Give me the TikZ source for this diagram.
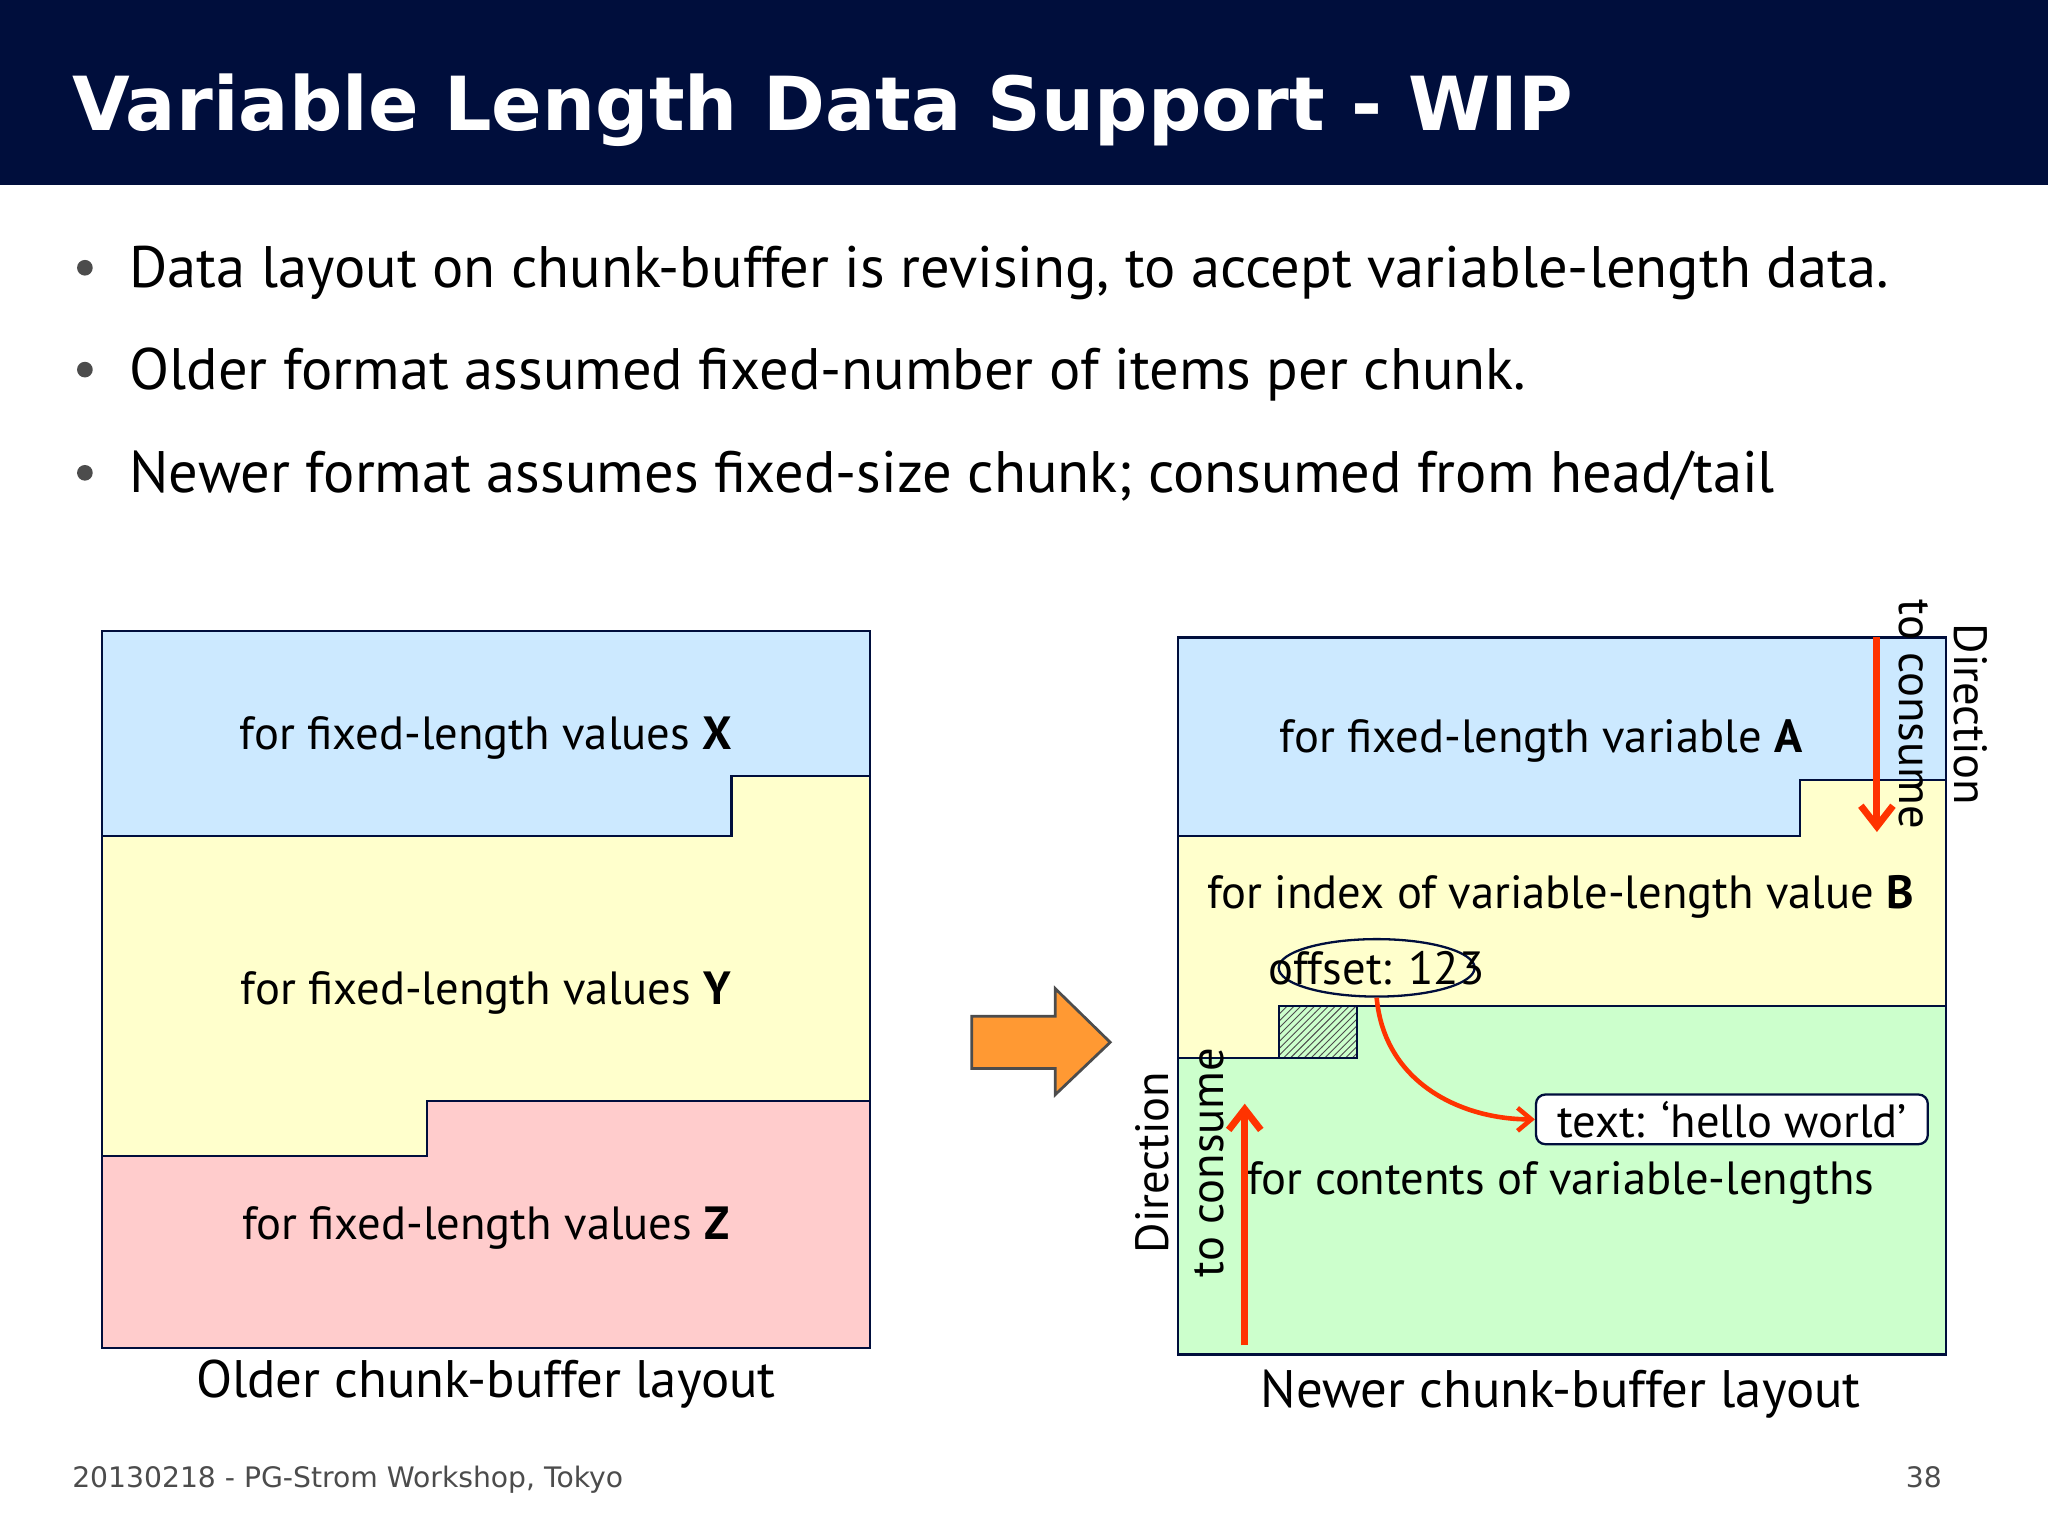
\documentclass[tikz,border=0pt]{standalone}
\usepackage{fontspec}
\setmainfont{PT Sans}
\newfontfamily\titlefont{DejaVu Sans}
\usetikzlibrary{patterns,shapes.geometric,arrows.meta}
\definecolor{navy}{HTML}{000E3C}
\definecolor{cblue}{HTML}{CCE9FF}
\definecolor{cyel}{HTML}{FFFFCC}
\definecolor{cpink}{HTML}{FFCCCC}
\definecolor{cgreen}{HTML}{CCFFCC}
\definecolor{corange}{HTML}{FF9933}
\definecolor{cred}{HTML}{FF3300}
\begin{document}
\begin{tikzpicture}[x=0.02cm,y=-0.02cm,
  reg/.style={draw=navy,line width=1pt},
  lbl/.style={font=\fontsize{20.3}{24}\selectfont},
  captxt/.style={font=\fontsize{23}{27}\selectfont},
  bul/.style={anchor=base west,font=\fontsize{25.5}{30}\selectfont},
  redarr/.style={draw=cred,line width=3pt,-{Straight Barb[length=9pt,width=14pt]}}]
\useasboundingbox (0,0) rectangle (1568,1176);
\fill[white] (0,0) rectangle (1568,1176);
\fill[navy] (0,0) rectangle (1568,142);
\node[anchor=base west,text=white,font=\titlefont\bfseries\fontsize{32.5}{38}\selectfont,inner sep=0pt] (title) at (55,100) {Variable Length Data Support - WIP};
\fill[black!70] (65,205) circle (6);
\node[bul] (b1) at (93,220) {Data layout on chunk-buffer is revising, to accept variable-length data.};
\fill[black!70] (65,283) circle (6);
\node[bul] (b2) at (93,298) {Older format assumed fixed-number of items per chunk.};
\fill[black!70] (65,362) circle (6);
\node[bul] (b3) at (93,377) {Newer format assumes fixed-size chunk; consumed from head/tail};
% left
\filldraw[reg,fill=cpink] (78,483) rectangle (666,1032);
\filldraw[reg,fill=cyel] (78,483) -- (666,483) -- (666,843) -- (327,843) -- (327,885) -- (78,885) -- cycle;
\filldraw[reg,fill=cblue] (78,483) -- (666,483) -- (666,594) -- (560,594) -- (560,640) -- (78,640) -- cycle;
\node[lbl] (lx) at (372,565) {for fixed-length values \textbf{X}};
\node[lbl] (ly) at (372,760) {for fixed-length values \textbf{Y}};
\node[lbl] (lz) at (372,940) {for fixed-length values \textbf{Z}};
\node[captxt] (lc) at (372,1060) {Older chunk-buffer layout};
% arrow
\filldraw[draw=black!70,line width=1.2pt,fill=corange] (744,778) -- (808,778) -- (808,757) -- (850,798) -- (808,838) -- (808,818) -- (744,818) -- cycle;
% right
\filldraw[reg,fill=cgreen] (902,488) rectangle (1490,1037);
\filldraw[reg,fill=cyel] (902,488) -- (1490,488) -- (1490,770) -- (979,770) -- (979,810) -- (902,810) -- cycle;
\filldraw[reg,fill=cblue] (902,488) -- (1490,488) -- (1490,597) -- (1378,597) -- (1378,640) -- (902,640) -- cycle;
\draw[reg,pattern=north east lines,pattern color=black!70] (979,770) rectangle (1039,810);
\node[lbl] (la) at (1180,567) {for fixed-length variable \textbf{A}};
\node[lbl] (lb) at (1195,687) {for index of variable-length value \textbf{B}};
\node[lbl] (lcv) at (1195,906) {for contents of variable-lengths};
\node[lbl,draw=navy,line width=1pt,fill=cyel,ellipse,inner sep=0pt,minimum width=3cm,minimum height=0.88cm] (off) at (1054,741) {\makebox[0pt]{offset: 123}};
\node[lbl,draw=navy,line width=1pt,fill=white,rounded corners=4pt,minimum width=6cm,minimum height=0.76cm,inner sep=1pt] (txt) at (1326,857) {text: ‘hello world’};
\draw[draw=cred,line width=2pt,-{Straight Barb[length=6pt,width=10pt]}] (off.south) .. controls (1060,830) and (1120,857) .. (txt.west);
\coordinate (r1) at (1437,488); \coordinate (r2) at (1437,637);
\draw[redarr] (r1) -- (r2);
\node[lbl,rotate=-90,align=center] (dr) at (1488,547) {Direction\\to consume};
\coordinate (l1) at (953,1030); \coordinate (l2) at (953,845);
\draw[redarr] (l1) -- (l2);
\node[lbl,rotate=90,align=center] (dl) at (903,890) {Direction\\to consume};
\node[captxt] (nc) at (1195,1067) {Newer chunk-buffer layout};
\node[anchor=base west,text=black!70,font=\titlefont\fontsize{12.3}{14}\selectfont,inner sep=0pt] (f1) at (55,1139) {20130218 - PG-Strom Workshop, Tokyo};
\node[anchor=base east,text=black!70,font=\titlefont\fontsize{12.3}{14}\selectfont,inner sep=0pt] (f2) at (1487,1139) {38};
\end{tikzpicture}
\end{document}
